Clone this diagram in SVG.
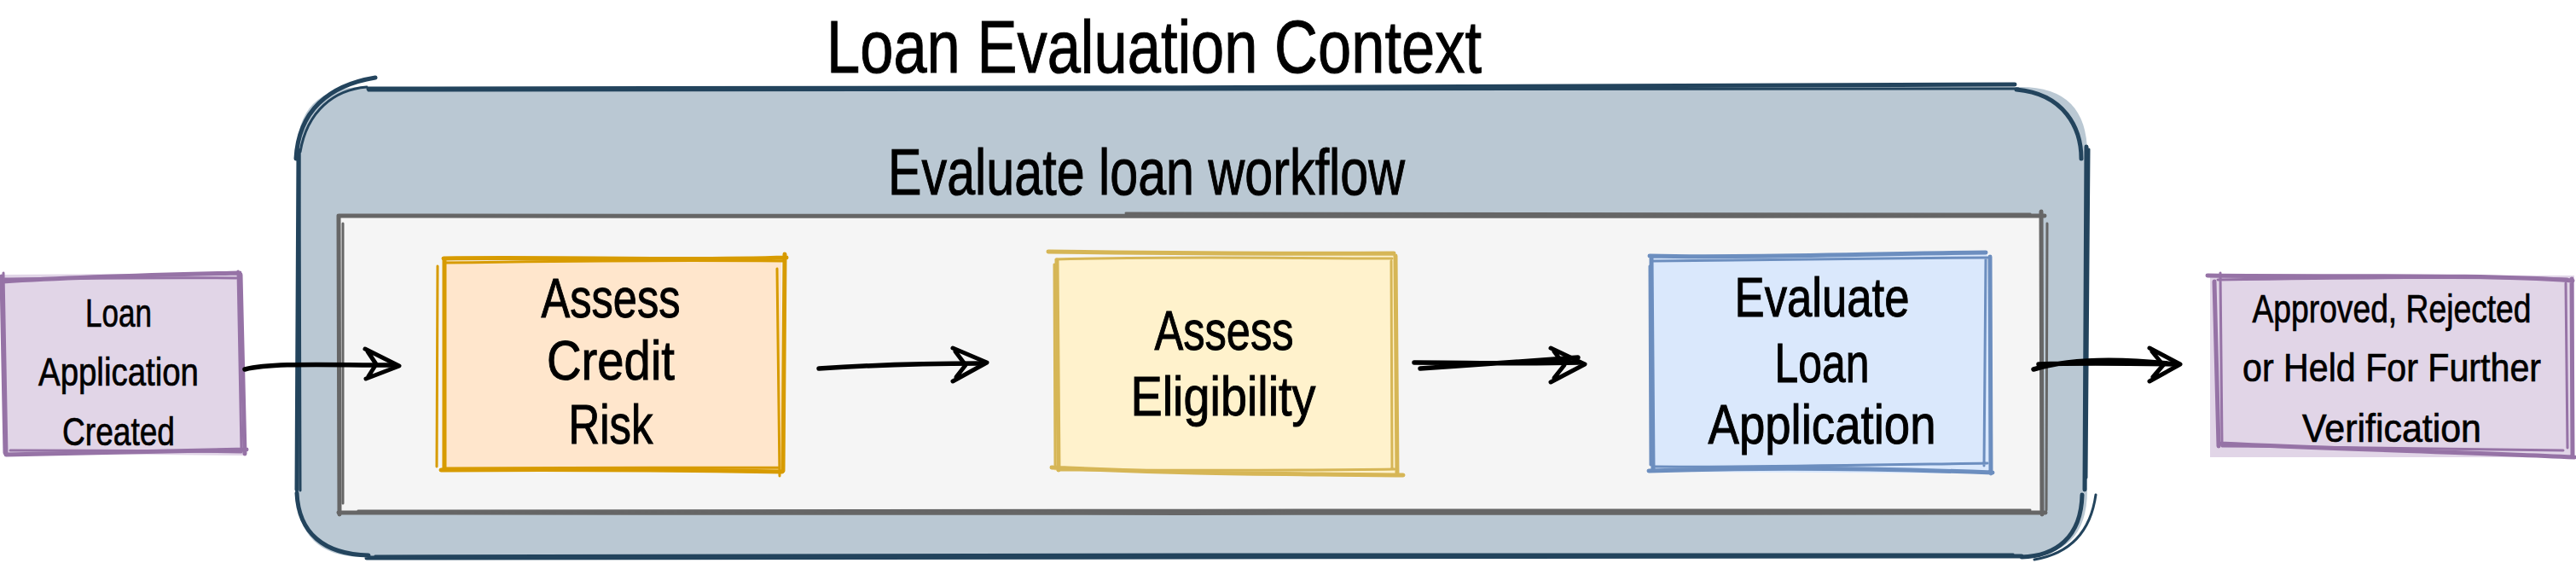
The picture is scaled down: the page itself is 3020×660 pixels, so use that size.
<svg xmlns="http://www.w3.org/2000/svg" width="3020" height="660" viewBox="0 0 3020 660">
<defs>
<style>
.t{font-family:"Liberation Sans","DejaVu Sans",sans-serif;fill:#000;stroke:#000;stroke-width:1;text-anchor:middle;}
.big{font-size:65px;}
.small{font-size:46px;stroke-width:0.7;}
.sk{fill:none;stroke-linecap:round;stroke-linejoin:round;}
.purple{stroke:#9673a6;stroke-width:5;}
.purple2{stroke:#9673a6;stroke-width:3;}
.orange{stroke:#d79b00;stroke-width:5;}
.orange2{stroke:#d79b00;stroke-width:3;}
.yellow{stroke:#d6b656;stroke-width:5;}
.yellow2{stroke:#d6b656;stroke-width:3;}
.blue{stroke:#6c8ebf;stroke-width:5;}
.blue2{stroke:#6c8ebf;stroke-width:3;}
.dark{stroke:#23445d;stroke-width:5;}
.dark2{stroke:#23445d;stroke-width:3;}
.grey{stroke:#666666;stroke-width:5;}
.grey2{stroke:#666666;stroke-width:3;}
.shaft{fill:none;stroke:#000;stroke-width:5.5;stroke-linecap:round;stroke-linejoin:round;}
.head{fill:none;stroke:#000;stroke-width:5;stroke-linecap:round;stroke-linejoin:round;}
</style>
</defs>
<rect width="3020" height="660" fill="#ffffff"/>

<g id="loan-evaluation-context">
<path d="M426,102 L2369,102 Q2447,102 2447,180 L2447,575 Q2447,653 2369,653 L426,653 Q348,653 348,575 L348,180 Q348,102 426,102 Z" fill="#bac8d3"/>
<path class="sk dark" d="M432,104 C1000,106 1800,100 2362,99 M2364,105 C2420,110 2440,150 2440,186 M2446,172 L2444,574 M2441,580 C2440,630 2410,652 2370,653 M2370,652 C1800,651 1000,655 430,654 M432,651 C380,650 350,625 348,578 M348,574 L350,176 M347,186 C350,130 385,100 440,91"/>
<path class="sk dark2" d="M432,106 C1000,104 1800,106 2366,104 M2449,175 L2446,560 M2457,580 C2450,630 2420,650 2385,656 M2360,650 C1800,648 1000,651 440,652 M352,575 L351,180 M352,178 C360,130 392,105 430,102"/>
<text class="t" x="1353" y="85" font-size="88" textLength="768" lengthAdjust="spacingAndGlyphs">Loan Evaluation Context</text>
</g>

<g id="evaluate-loan-workflow">
<rect x="396" y="253" width="1999" height="348" fill="#f5f5f5"/>
<path class="sk grey" d="M397,253 C1000,252 1800,255 2397,253 M2393,248 L2394,603 M2398,601 C1800,600 1000,603 397,601 M398,603 L397,253"/>
<path class="sk grey2" d="M1320,250 C1800,251 2100,249 2380,251 M2400,262 L2399,598 M2380,598 C1800,597 1000,599 420,599 M402,590 L402,262"/>
<text class="t" x="1344" y="228" font-size="76" textLength="606" lengthAdjust="spacingAndGlyphs">Evaluate loan workflow</text>
</g>

<g id="loan-application-created">
<path d="M2,322 L283,320 L287,534 L4,531 Z" fill="#e1d5e7"/>
<path class="sk purple" d="M3,330 C100,324 200,322 281,320 M282,322 L287,532 M289,527 C190,529 100,531 7,533 M6,531 L2,324"/>
<path class="sk purple2" d="M6,327 C110,326 200,325 277,326 M279,318 L283,528 M283,530 C190,528 100,528 12,528 M8,533 L4,320"/>
<text class="t small" x="139" y="383" textLength="78" lengthAdjust="spacingAndGlyphs">Loan</text>
<text class="t small" x="139" y="452" textLength="188" lengthAdjust="spacingAndGlyphs">Application</text>
<text class="t small" x="139" y="522" textLength="132" lengthAdjust="spacingAndGlyphs">Created</text>
</g>

<g id="assess-credit-risk">
<path d="M520,306 L916,305 L916,551 L518,551 Z" fill="#ffe6cc"/>
<path class="sk orange" d="M520,303 C650,301 800,306 922,302 M920,298 L918,552 M917,553 C800,551 650,550 517,551 M521,305 L521,551"/>
<path class="sk orange2" d="M522,308 C650,306 800,305 918,306 M911,315 L914,558 M914,548 C800,549 650,548 520,549 M513,312 L512,547"/>
<text class="t big" x="716" y="372" textLength="163" lengthAdjust="spacingAndGlyphs">Assess</text>
<text class="t big" x="716" y="445" textLength="150" lengthAdjust="spacingAndGlyphs">Credit</text>
<text class="t big" x="716" y="520" textLength="99" lengthAdjust="spacingAndGlyphs">Risk</text>
</g>

<g id="assess-eligibility">
<path d="M1238,302 L1636,300 L1638,555 L1236,552 Z" fill="#fff2cc"/>
<path class="sk yellow" d="M1229,295 C1400,297 1500,298 1634,297 M1636,300 L1638,556 M1645,557 C1500,555 1400,556 1233,548 M1239,305 L1241,551"/>
<path class="sk yellow2" d="M1238,304 C1400,300 1500,303 1632,303 M1631,306 L1632,550 M1635,550 C1500,552 1400,551 1240,551 M1236,310 L1237,545"/>
<text class="t big" x="1435" y="410" textLength="163" lengthAdjust="spacingAndGlyphs">Assess</text>
<text class="t big" x="1434" y="487" textLength="217" lengthAdjust="spacingAndGlyphs">Eligibility</text>
</g>

<g id="evaluate-loan-application">
<path d="M1936,302 L2330,298 L2335,555 L1935,553 Z" fill="#dae8fc"/>
<path class="sk blue" d="M1934,300 C2050,303 2200,297 2328,296 M2333,301 L2334,555 M2336,554 C2200,549 2050,548 1933,552 M1936,302 L1938,549"/>
<path class="sk blue2" d="M1938,306 C2100,304 2200,303 2330,302 M2328,303 L2326,546 M2330,543 C2200,545 2050,548 1940,547 M1934,312 L1935,545"/>
<text class="t big" x="2136" y="371" textLength="205" lengthAdjust="spacingAndGlyphs">Evaluate</text>
<text class="t big" x="2136" y="448" textLength="111" lengthAdjust="spacingAndGlyphs">Loan</text>
<text class="t big" x="2136" y="520" textLength="267" lengthAdjust="spacingAndGlyphs">Application</text>
</g>

<g id="approved-rejected-held">
<path d="M2591,322 L3018,323 L3018,536 L2591,536 Z" fill="#e1d5e7"/>
<path class="sk purple" d="M2588,323 C2750,325 2900,321 3016,329 M3015,327 L3016,534 M3018,536 C2900,530 2750,527 2603,520 M2596,330 L2601,523"/>
<path class="sk purple2" d="M2600,328 C2750,326 2900,324 3010,327 M3008,332 L3010,525 M3005,528 C2900,527 2750,524 2605,523 M2603,320 L2605,520"/>
<text class="t small" x="2804" y="378" textLength="327" lengthAdjust="spacingAndGlyphs">Approved, Rejected</text>
<text class="t small" x="2804" y="447" textLength="350" lengthAdjust="spacingAndGlyphs">or Held For Further</text>
<text class="t small" x="2804" y="518" textLength="210" lengthAdjust="spacingAndGlyphs">Verification</text>
</g>

<g id="connectors">
<path class="shaft" d="M287,433 C320,425 380,428 462,428"/>
<path class="head" d="M428,409 L468,429 L429,444 M431,412 L441,427 L432,441"/>
<path class="shaft" d="M960,432 C1020,428 1080,426 1150,426"/>
<path class="head" d="M1117,408 L1157,425 L1117,447 M1120,412 L1132,428 L1121,442"/>
<path class="shaft" d="M1658,425 C1720,425 1780,427 1852,425 M1665,432 C1730,428 1800,422 1850,419"/>
<path class="head" d="M1818,408 L1858,427 L1818,448 M1822,412 L1834,428 L1822,443"/>
<path class="shaft" d="M2384,433 C2420,422 2470,418 2550,427 M2390,427 C2440,425 2500,426 2550,427"/>
<path class="head" d="M2520,408 L2556,427 L2520,447 M2523,412 L2536,428 L2524,442"/>
</g>
</svg>
